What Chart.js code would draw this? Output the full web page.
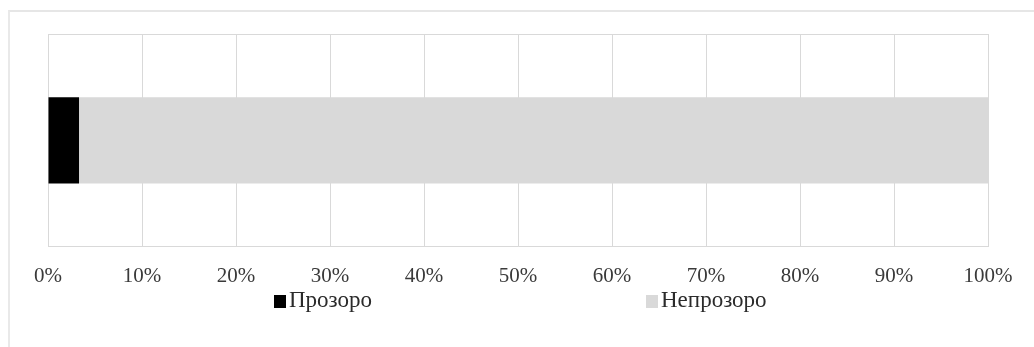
<!DOCTYPE html>
<html>
<head>
<meta charset="utf-8">
<script src="https://cdn.jsdelivr.net/npm/chart.js@4.4.1/dist/chart.umd.min.js"></script>
<style>
  body { margin: 0; background: #fff; }
  #wrap { position: relative; width: 1034px; height: 347px; overflow: hidden; }
  #frame { position: absolute; left: 8px; top: 10px; width: 1100px; height: 400px;
           border-top: 2px solid #e6e6e6; border-left: 2px solid #e9e9e9; }
  #legend { position: absolute; left: 0; top: 0; width: 1034px; height: 347px; pointer-events: none; }
  .item { position: absolute; top: 287px; font: 23px "Liberation Serif", "Times New Roman", serif;
          line-height: 26px; color: #2b2b2b; white-space: nowrap; }
  .item span.box { display: inline-block; width: 12px; height: 13px; margin-right: 3px; vertical-align: -1px; }
</style>
</head>
<body>
<div id="wrap">
  <div id="frame"></div>
  <canvas id="chart" width="1034" height="347"></canvas>
  <div id="legend"></div>
</div>
<script>
// data
const categories = [''];
const seriesNames = ['Прозоро', 'Непрозоро'];
const transparent = [3.3];
const notTransparent = [96.7];
const tickValues = [0, 10, 20, 30, 40, 50, 60, 70, 80, 90, 100];

const colors = ['#000000', '#d9d9d9'];
const legendLeft = [274, 646];

const ctx = document.getElementById('chart').getContext('2d');
const chart = new Chart(ctx, {
    type: 'bar',
    data: {
        labels: categories,
        datasets: [
            { label: seriesNames[0], data: transparent, backgroundColor: colors[0] },
            { label: seriesNames[1], data: notTransparent, backgroundColor: colors[1] }
        ]
    },
    options: {
        indexAxis: 'y',
        responsive: false,
        animation: false,
        layout: { padding: { left: 48, right: 46, top: 34, bottom: 41 } },
        datasets: { bar: { categoryPercentage: 1, barPercentage: 0.406 } },
        scales: {
            x: {
                stacked: true,
                min: 0,
                max: 100,
                afterBuildTicks: (axis) => { axis.ticks = tickValues.map(v => ({ value: v })); },
                ticks: {
                    padding: 17,
                    color: '#3a3a3a',
                    font: { family: '"Liberation Serif", serif', size: 21 },
                    callback: (v) => v + '%'
                },
                grid: { color: '#d9d9d9', drawTicks: false },
                border: { color: '#d9d9d9' }
            },
            y: {
                stacked: true,
                ticks: { display: false },
                grid: { color: '#d9d9d9', drawTicks: false, offset: true },
                border: { color: '#d9d9d9' }
            }
        },
        plugins: {
            legend: { display: false },
            tooltip: { enabled: false }
        }
    }
});

// legend below the axis, spread out like the original
const legend = document.getElementById('legend');
chart.data.datasets.forEach((ds, i) => {
    const item = document.createElement('div');
    item.className = 'item';
    item.style.left = legendLeft[i] + 'px';
    const box = document.createElement('span');
    box.className = 'box';
    box.style.background = ds.backgroundColor;
    item.appendChild(box);
    item.appendChild(document.createTextNode(ds.label));
    legend.appendChild(item);
});
</script>
</body>
</html>
